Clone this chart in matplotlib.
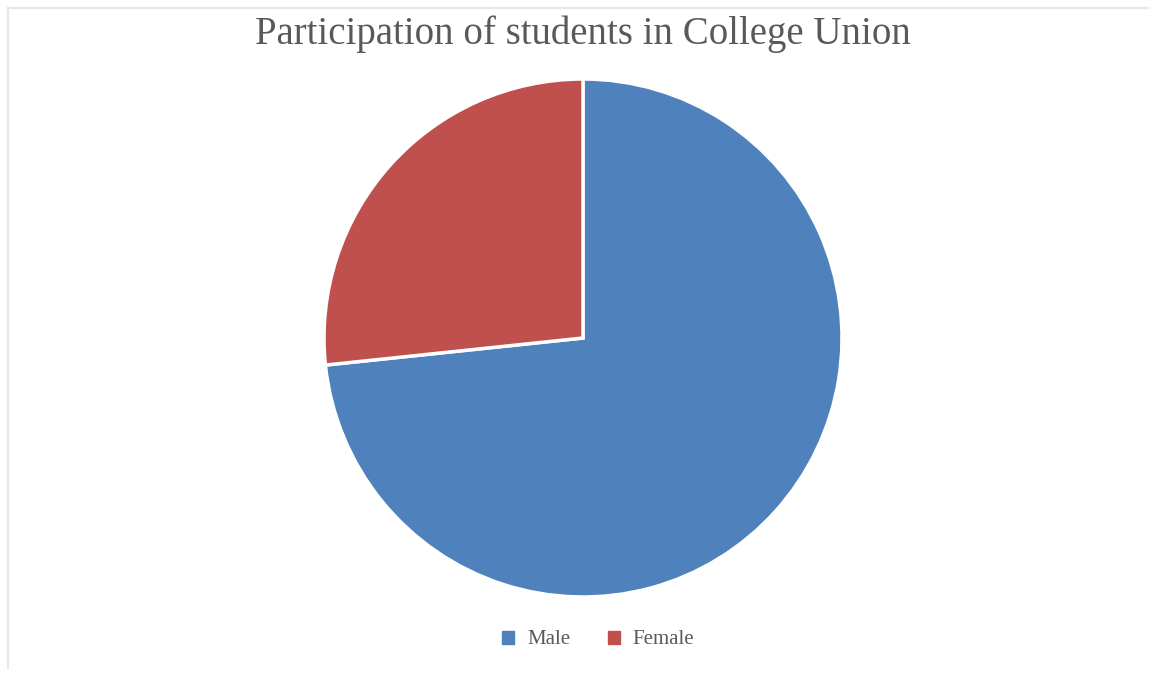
import matplotlib
matplotlib.use("Agg")
import matplotlib.pyplot as plt
from matplotlib.lines import Line2D
from matplotlib.patches import Patch

categories = ["Male", "Female"]
values = [11, 4]
colors = ["#4f81bd", "#c0504d"]
title = "Participation of students in College Union"

W, H = 1149, 675
fig = plt.figure(figsize=(W / 100, H / 100), dpi=100)
fig.patch.set_facecolor("white")

# chart-area frame (left and top edges)
fig.add_artist(Line2D([8 / W, 8 / W], [1 - 8 / H, 1 - 668 / H], color="#e6e6e6", lw=1.5))
fig.add_artist(Line2D([8 / W, 1.0], [1 - 8 / H, 1 - 8 / H], color="#e6e6e6", lw=1.5))

cx, cy, r = 583, 338, 259
ax = fig.add_axes([(cx - r) / W, 1 - (cy + r) / H, 2 * r / W, 2 * r / H])
ax.pie(values, colors=colors, startangle=90, counterclock=False, radius=1,
       wedgeprops=dict(edgecolor="white", linewidth=2.5))
ax.set_xlim(-1, 1)
ax.set_ylim(-1, 1)
ax.set_aspect("equal")
ax.axis("off")

fig.text(583 / W, 1 - 34 / H, title, ha="center", va="center",
         fontsize=28, color="#595959", family="Liberation Serif")

handles = [Patch(facecolor=c, edgecolor=c) for c in colors]
fig.legend(handles, categories, loc="center", bbox_to_anchor=(598 / W, 1 - 640 / H),
           ncol=2, frameon=False, handlelength=0.6, handleheight=0.6,
           handletextpad=0.6, columnspacing=1.8,
           prop=dict(family="Liberation Serif", size=15), labelcolor="#595959")

fig.savefig("out.png", dpi=100, facecolor="white")
